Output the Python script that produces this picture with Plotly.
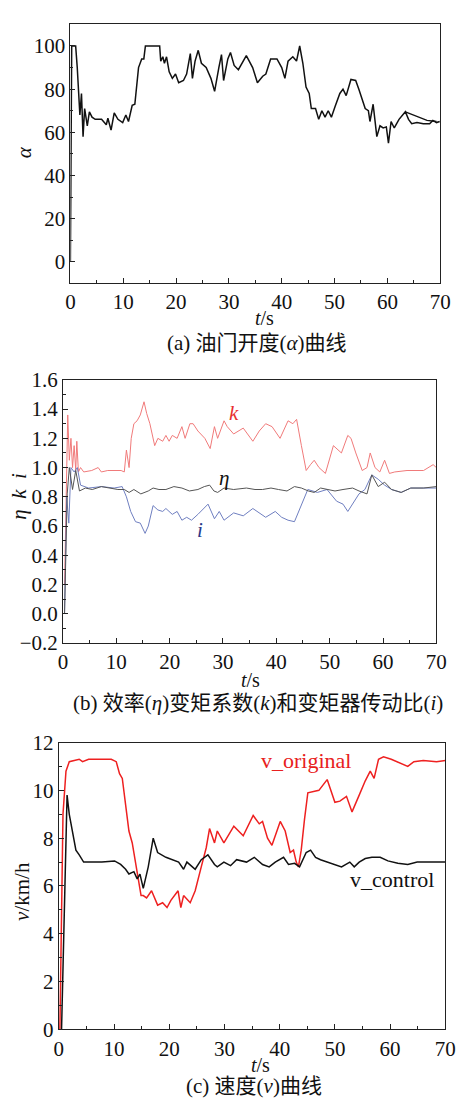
import plotly.graph_objects as go

# ---------------- data ----------------
# (a) throttle opening
t_a = [0, 0.25, 1.0, 1.3, 1.8, 2.1, 2.4, 2.7, 3.2, 3.6, 4.1, 4.7, 5.9, 6.8, 7.1, 7.7, 8.3, 9.0, 9.9,
       10.5, 11.0, 11.7, 12.2, 12.9, 13.5, 13.9, 14.2, 16.9, 17.1, 17.5, 17.8, 18.2, 18.7, 19.3, 19.9,
       20.5, 21.4, 22.0, 22.7, 23.1, 23.6, 24.2, 24.8, 25.7, 26.6, 27.3, 28.1, 28.6, 29.0, 29.8, 30.3,
       31.0, 31.8, 33.3, 34.5, 35.4, 36.4, 37.0, 37.9, 39.1, 40.0, 40.6, 41.2, 42.1, 42.8, 43.4, 44.0,
       44.6, 45.2, 45.6, 46.4, 47.0, 47.6, 48.2, 48.8, 49.4, 50.1, 51.0, 51.6, 52.2, 53.1, 54.0, 54.6,
       55.2, 55.8, 56.4, 56.7, 57.3, 58.0, 58.6, 59.2, 59.8, 60.2, 60.7, 61.3, 62.2, 63.4, 64.0, 64.6,
       65.6, 66.8, 68.0, 68.6, 69.3, 69.9]
alpha = [0, 100, 100, 90, 68, 78, 58, 71, 63, 69.5, 67, 66, 66, 63.5, 66.5, 61, 69, 66, 64.5,
         68, 65, 72.5, 73, 90, 94, 94, 100, 100, 93, 95, 92, 95, 88, 85, 87,
         83, 84, 87, 96.5, 85, 93, 98, 92, 90, 85, 79, 90, 96, 84, 94, 97,
         91, 89, 95.5, 90, 83, 86, 87, 94, 94, 90, 85, 93, 95, 93, 100, 92,
         81, 78, 71, 71, 66, 70, 67, 70, 67, 72, 78, 80, 77, 84.5, 84, 80,
         76, 71, 70, 65, 73, 58, 63, 62, 62.5, 55, 65, 62, 66, 69.5, 66, 64,
         64.5, 64, 64, 65.5, 64.5, 65]
t_a2 = [63.4, 67.5, 69.3]
alpha2 = [69.5, 65.5, 65]

# (b) efficiency eta, torque coefficient k, transmission ratio i
t_k = [0.3, 0.9, 1.2, 1.5, 1.8, 2.1, 2.4, 2.6, 2.9, 3.3, 3.9, 5.4, 6.6, 7.2, 8.4, 9.7, 10.9, 11.5,
       11.9, 12.4, 12.8, 13.3, 13.9, 14.5, 15.2, 15.7, 16.3, 17.2, 17.8, 18.7, 19.3, 19.9, 20.5, 21.4,
       22.3, 22.9, 23.8, 24.4, 25.3, 26.6, 27.6, 28.4, 29.0, 30.2, 30.8, 32.0, 33.8, 35.6, 36.8, 38.0,
       39.2, 40.7, 42.2, 43.1, 43.8, 44.7, 45.6, 46.4, 47.1, 48.0, 49.2, 50.7, 52.2, 53.4, 54.0, 54.9,
       56.1, 57.0, 57.6, 58.5, 59.4, 60.3, 61.2, 62.2, 64.5, 67.6, 69.4, 70.0]
k_val = [0.2, 1.36, 1.05, 1.2, 1.0, 1.15, 0.98, 1.18, 0.97, 1.0, 0.97, 0.98, 1.0, 0.97, 0.98, 0.98, 0.98, 0.97,
         1.12, 1.0, 1.2, 1.3, 1.32, 1.36, 1.45, 1.37, 1.3, 1.15, 1.2, 1.18, 1.22, 1.18, 1.22, 1.2,
         1.28, 1.2, 1.3, 1.3, 1.25, 1.2, 1.13, 1.28, 1.2, 1.32, 1.28, 1.23, 1.27, 1.18, 1.25, 1.3,
         1.28, 1.2, 1.32, 1.3, 1.33, 1.15, 0.98, 1.02, 1.05, 1.0, 0.96, 1.15, 1.1, 1.22, 1.2, 1.1,
         0.98, 1.0, 1.1, 1.0, 0.97, 1.05, 0.96, 0.97, 0.98, 0.98, 1.02, 1.0]
t_eta = [0.3, 0.8, 1.2, 1.8, 2.4, 3.1, 4.2, 5.5, 7.2, 8.5, 10.3, 11.5, 12.4, 13.3, 14.6, 16.0, 16.9,
         18.0, 19.3, 20.8, 22.3, 23.7, 25.3, 26.5, 27.5, 28.3, 29.0, 30.2, 32.0, 34.4, 36.0, 37.4, 39.0,
         40.4, 42.0, 43.4, 44.7, 46.0, 47.1, 48.3, 49.5, 51.0, 52.5, 54.3, 55.5, 57.0, 57.9, 59.1, 60.3,
         61.6, 63.4, 65.2, 67.6, 70.0]
eta = [0.0, 0.82, 1.0, 0.85, 0.98, 0.84, 0.86, 0.85, 0.87, 0.86, 0.85, 0.85, 0.83, 0.85, 0.82, 0.84, 0.86,
       0.85, 0.85, 0.87, 0.86, 0.84, 0.85, 0.87, 0.88, 0.84, 0.83, 0.86, 0.85, 0.86, 0.85, 0.85, 0.86,
       0.85, 0.84, 0.87, 0.86, 0.84, 0.83, 0.86, 0.85, 0.84, 0.85, 0.86, 0.84, 0.82, 0.95, 0.87, 0.9,
       0.85, 0.83, 0.86, 0.86, 0.87]
t_i = [0.3, 0.7, 1.1, 1.5, 2.1, 2.7, 3.3, 4.8, 7.2, 9.6, 11.1, 11.9, 12.7, 13.6, 14.5, 15.1, 15.4, 16.0,
       16.9, 17.8, 18.7, 19.3, 20.5, 21.4, 22.3, 23.2, 24.1, 25.3, 27.2, 28.4, 29.3, 30.2, 32.0, 33.8,
       35.6, 38.0, 39.8, 41.0, 42.2, 43.4, 44.7, 45.9, 47.7, 49.5, 51.3, 52.5, 53.4, 54.3, 55.5, 56.6,
       57.9, 59.1, 60.3, 61.6, 63.4, 65.2, 67.6, 70.0]
i_val = [0.0, 0.8, 0.62, 1.0, 0.97, 1.0, 0.88, 0.86, 0.87, 0.86, 0.87, 0.8, 0.7, 0.63, 0.62, 0.58, 0.55, 0.6,
         0.74, 0.71, 0.7, 0.72, 0.68, 0.7, 0.64, 0.66, 0.64, 0.68, 0.75, 0.65, 0.7, 0.64, 0.69, 0.67,
         0.72, 0.66, 0.7, 0.66, 0.64, 0.63, 0.75, 0.85, 0.83, 0.85, 0.77, 0.75, 0.7, 0.75, 0.82, 0.85,
         0.95, 0.92, 0.88, 0.85, 0.83, 0.86, 0.86, 0.86]

# (c) speed
t_vo = [0.2, 0.5, 0.76, 1.3, 1.9, 3.7, 4.3, 5.4, 7.8, 9.5, 10.4, 11.0, 11.5, 12.1, 12.7, 13.3, 13.9, 14.5,
        14.9, 15.3, 15.9, 16.8, 17.4, 17.9, 18.8, 19.6, 20.3, 21.2, 21.6, 22.1, 22.6, 23.8, 24.7, 25.8,
        26.7, 27.3, 28.2, 28.7, 29.9, 31.7, 33.4, 35.2, 36.3, 36.9, 37.8, 38.6, 40.1, 41.0, 41.9, 42.5,
        43.0, 43.4, 43.9, 44.5, 45.1, 47.1, 48.6, 50.0, 50.9, 52.1, 53.1, 54.4, 55.5, 56.4, 57.1, 57.9,
        58.8, 60.2, 62.0, 63.2, 64.3, 66.0, 68.4, 70.0]
v_original = [0, 4, 9, 10.8, 11.2, 11.3, 11.2, 11.3, 11.3, 11.3, 11.2, 10.7, 10.5, 9.5, 8.3, 7.8, 7.0, 6.2,
              5.6, 5.6, 5.5, 5.8, 5.5, 5.2, 5.3, 5.1, 5.4, 5.7, 5.8, 5.1, 5.6, 5.3, 5.8, 6.8,
              7.6, 8.4, 7.8, 8.3, 7.8, 8.5, 8.1, 8.95, 8.6, 8.7, 8.0, 7.7, 8.7, 8.3, 7.4, 7.5,
              7.0, 6.8, 7.5, 8.8, 9.9, 10.0, 10.45, 9.5, 9.55, 9.75, 9.1, 9.8, 10.4, 10.8, 10.5, 11.3,
              11.4, 11.3, 11.1, 11.0, 11.2, 11.25, 11.2, 11.25]
t_vc = [0.5, 1.5, 1.9, 2.5, 3.1, 3.7, 4.5, 7.8, 10.1, 11.2, 12.1, 12.7, 13.6, 14.2, 14.7, 15.3, 16.2,
        17.1, 17.9, 19.4, 20.6, 21.7, 22.6, 23.2, 24.7, 25.8, 27.0, 28.2, 28.7, 29.9, 31.1, 32.2, 34.0,
        35.4, 36.9, 38.1, 39.2, 40.7, 41.6, 42.7, 43.6, 44.8, 45.6, 46.5, 47.4, 48.6, 50.3, 51.2, 52.7,
        53.5, 54.4, 55.5, 56.7, 58.2, 59.6, 61.4, 63.2, 64.9, 67.2, 70.0]
v_control = [0, 9.8, 9.0, 8.3, 7.5, 7.3, 7.0, 7.0, 7.05, 6.9, 6.7, 6.5, 6.6, 6.3, 6.5, 5.9, 6.8,
             8.0, 7.4, 7.2, 7.1, 7.0, 6.7, 7.0, 6.7, 7.1, 7.3, 6.9, 6.8, 7.0, 6.85, 7.1, 7.0,
             7.2, 6.9, 6.8, 7.0, 7.2, 6.9, 6.95, 6.8, 7.4, 7.5, 7.2, 7.1, 7.0, 6.85, 6.8, 7.0,
             6.8, 7.0, 7.15, 7.2, 7.2, 7.05, 6.95, 6.9, 7.0, 7.0, 7.0]

# ---------------- figure ----------------
W, H = 466, 1108
SERIF = "Liberation Serif, Noto Sans CJK SC"


def px(x):
    return x / W


def py(y):
    return 1 - y / H


fig = go.Figure()
fig.add_trace(go.Scatter(x=t_a, y=alpha, mode="lines", line=dict(color="#111111", width=1.5),
                         xaxis="x", yaxis="y", showlegend=False))
fig.add_trace(go.Scatter(x=t_a2, y=alpha2, mode="lines", line=dict(color="#111111", width=1.3),
                         xaxis="x", yaxis="y", showlegend=False))
fig.add_trace(go.Scatter(x=t_k, y=k_val, mode="lines", line=dict(color="#f07a7a", width=1),
                         xaxis="x2", yaxis="y2", showlegend=False))
fig.add_trace(go.Scatter(x=t_i, y=i_val, mode="lines", line=dict(color="#6f7fc0", width=1),
                         xaxis="x2", yaxis="y2", showlegend=False))
fig.add_trace(go.Scatter(x=t_eta, y=eta, mode="lines", line=dict(color="#555555", width=1),
                         xaxis="x2", yaxis="y2", showlegend=False))
fig.add_trace(go.Scatter(x=t_vo, y=v_original, mode="lines", line=dict(color="#ee2020", width=1.5),
                         xaxis="x3", yaxis="y3", showlegend=False))
fig.add_trace(go.Scatter(x=t_vc, y=v_control, mode="lines", line=dict(color="#111111", width=1.5),
                         xaxis="x3", yaxis="y3", showlegend=False))

tickfont = dict(family=SERIF, size=21, color="#111111")


def xaxis_cfg(domain, anchor):
    return dict(domain=domain, anchor=anchor, range=[0, 70], dtick=10, tick0=0,
                showline=True, linecolor="#222222", linewidth=1, mirror=True,
                ticks="inside", ticklen=5, tickcolor="#222222",
                minor=dict(ticks="inside", dtick=5, ticklen=3, tickcolor="#222222"),
                showgrid=False, zeroline=False, tickfont=tickfont)


def yaxis_cfg(domain, anchor, rng, dtick, minor, fmt=None):
    d = dict(domain=domain, anchor=anchor, range=rng, dtick=dtick, tick0=0,
             showline=True, linecolor="#222222", linewidth=1, mirror=True,
             ticks="inside", ticklen=5, tickcolor="#222222",
             minor=dict(ticks="inside", dtick=minor, ticklen=3, tickcolor="#222222"),
             showgrid=False, zeroline=False, tickfont=tickfont)
    if fmt:
        d["tickformat"] = fmt
    return d


fig.update_layout(
    width=W, height=H, autosize=False,
    margin=dict(l=0, r=0, t=0, b=0),
    paper_bgcolor="white", plot_bgcolor="white",
    font=dict(family=SERIF),
    xaxis=xaxis_cfg([px(67.7), px(450.7)], "y"),
    yaxis=yaxis_cfg([py(277.3), py(12.7)], "x", [-10, 110], 20, 10),
    xaxis2=xaxis_cfg([px(60), px(446.7)], "y2"),
    yaxis2=yaxis_cfg([py(645), py(376)], "x2", [-0.2, 1.6], 0.2, 0.1, ".1f"),
    xaxis3=xaxis_cfg([px(55.7), px(456)], "y3"),
    yaxis3=yaxis_cfg([py(1040), py(746.7)], "x3", [0, 12], 2, 1),
)

ann = []


def paper_text(text, x, y, size=21, angle=0, color="#111111"):
    ann.append(dict(text=text, x=px(x), y=py(y), xref="paper", yref="paper",
                    showarrow=False, textangle=angle, xanchor="center", yanchor="middle",
                    font=dict(family=SERIF, size=size, color=color)))


# panel a
paper_text("<i>t</i>/s", 269, 313, size=20)
paper_text("(a) 油门开度(<i>α</i>)曲线", 261, 338, size=21)
paper_text("<i>α</i>", 20, 143, angle=-90)
# panel b
paper_text("<i>t</i>/s", 254, 683, size=20)
paper_text("(b) 效率(<i>η</i>)变矩系数(<i>k</i>)和变矩器传动比(<i>i</i>)", 262, 706, size=21)
paper_text("<i>η  k  i</i>", 15, 495, angle=-90)
# panel c
paper_text("<i>t</i>/s", 265, 1076, size=20)
paper_text("(c) 速度(<i>v</i>)曲线", 258, 1098, size=21)
paper_text("<i>v</i>/km/h", 17, 899, angle=-90)

# series labels (data coordinates)
ann.append(dict(text="<i>k</i>", x=32, y=1.37, xref="x2", yref="y2", showarrow=False,
                font=dict(family=SERIF, size=21, color="#e83030")))
ann.append(dict(text="<i>η</i>", x=30.2, y=0.93, xref="x2", yref="y2", showarrow=False,
                font=dict(family=SERIF, size=21, color="#111111")))
ann.append(dict(text="<i>i</i>", x=25.6, y=0.57, xref="x2", yref="y2", showarrow=False,
                font=dict(family=SERIF, size=21, color="#2a3a8a")))
ann.append(dict(text="v_original", x=44.8, y=11.25, xref="x3", yref="y3", showarrow=False,
                font=dict(family=SERIF, size=22, color="#e82020")))
ann.append(dict(text="v_control", x=60.4, y=6.27, xref="x3", yref="y3", showarrow=False,
                font=dict(family=SERIF, size=22, color="#111111")))

fig.update_layout(annotations=ann)
fig.write_html("out.html")
